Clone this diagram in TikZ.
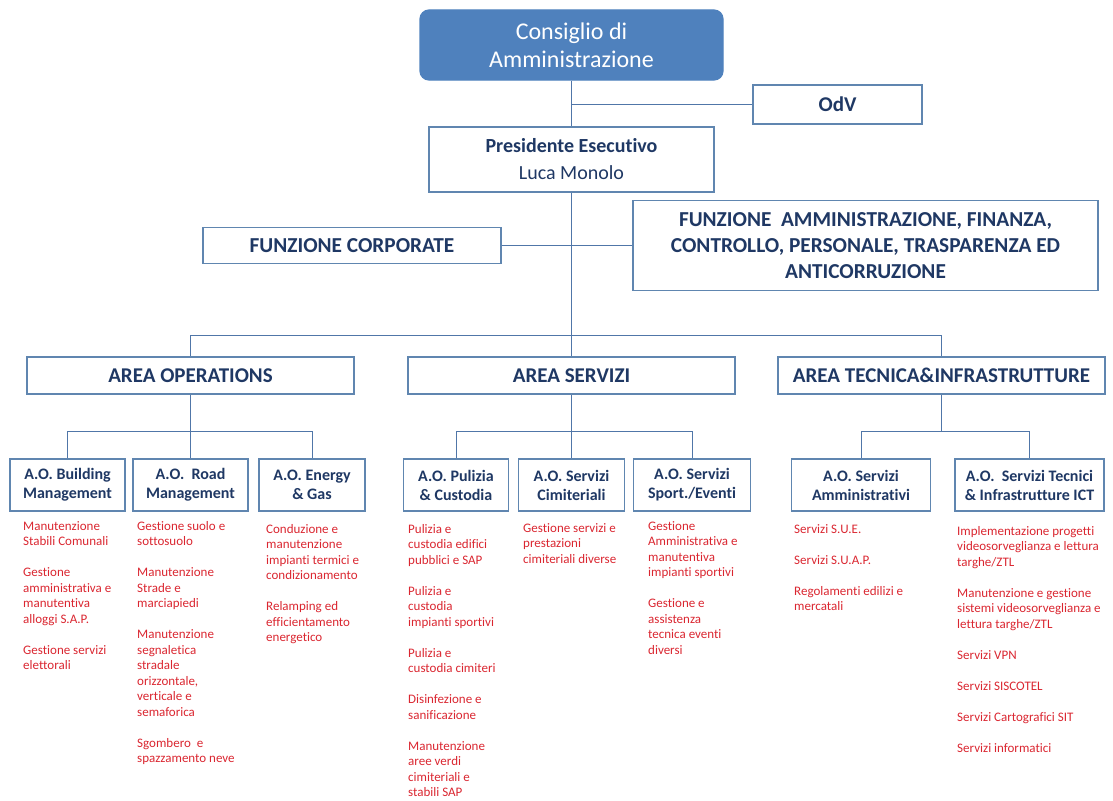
\documentclass[tikz,border=0pt]{standalone}
\usepackage{fontspec}
\setmainfont{Carlito}[Ligatures=NoCommon]
\usetikzlibrary{positioning}
\definecolor{boardblue}{RGB}{79,129,189}
\definecolor{framecol}{RGB}{96,134,176}
\definecolor{linkcol}{RGB}{80,118,168}
\definecolor{navy}{RGB}{31,56,100}
\definecolor{dutyred}{RGB}{218,38,48}

\begin{document}
\begin{tikzpicture}[x=1pt, y=-1pt,
  box/.style={draw=framecol, line width=1.2pt, fill=white, text=navy, align=center, inner sep=0pt},
  aobox/.style={box, minimum height=52pt, font=\bfseries\fontsize{16}{19}\selectfont},
  areabox/.style={box, minimum width=327pt, minimum height=37pt, font=\bfseries\fontsize{21}{24}\selectfont},
  duty/.style={anchor=north west, align=left, inner sep=0pt, text=dutyred, font=\fontsize{13}{15.5}\selectfont},
  link/.style={draw=linkcol, line width=1pt}]
  \useasboundingbox (0,0) rectangle (1113,800);

  % top of the chart
  \node [box, fill=boardblue, draw=boardblue, rounded corners=9pt, text=white, minimum width=303pt, minimum height=70pt,
         font=\fontsize{24}{28}\selectfont] (cda) at (571.5,45) {Consiglio di\\Amministrazione};
  \node [box, minimum width=169pt, minimum height=39pt, font=\bfseries\fontsize{21}{25}\selectfont] (odv) at (837.5,104.5) {OdV};
  \node [box, minimum width=285pt, minimum height=65pt, font=\fontsize{20}{27}\selectfont] (pres) at (571.5,159.5)
        {\textbf{Presidente Esecutivo}\\Luca Monolo};
  \node [box, minimum width=298pt, minimum height=36pt, font=\bfseries\fontsize{21.3}{24}\selectfont] (corp) at (352,245.5) {FUNZIONE CORPORATE};
  \node [box, minimum width=465pt, minimum height=90pt, font=\bfseries\fontsize{21.3}{26}\selectfont] (afc) at (865.5,245.5)
        {FUNZIONE\ \ AMMINISTRAZIONE, FINANZA,\\CONTROLLO, PERSONALE, TRASPARENZA ED\\ANTICORRUZIONE};
  \coordinate (bus) at (571.5,335);

  % areas
  \node [areabox] (aop) at (190.5,375.5) {AREA OPERATIONS};
  \node [areabox] (aserv) at (571.5,375.5) {AREA SERVIZI};
  \node [areabox] (atec) at (941.5,375.5) {AREA TECNICA\&INFRASTRUTTURE};

  % A.O. units
  \node [aobox, minimum width=115pt] (build) at (67.5,485) {A.O. Building\\Management};
  \node [aobox, minimum width=115pt] (road) at (190.5,485) {A.O.\ \ Road\\Management};
  \node [aobox, minimum width=106pt] (energy) at (312,485) {A.O. Energy\\\& Gas};
  \node [aobox, minimum width=105pt] (puli) at (456,485) {A.O. Pulizia\\\& Custodia};
  \node [aobox, minimum width=106pt] (cimi) at (571.5,485) {A.O. Servizi\\Cimiteriali};
  \node [aobox, minimum width=117pt] (sport) at (692,485) {A.O. Servizi\\Sport./Eventi};
  \node [aobox, minimum width=139pt] (ammi) at (861,485) {A.O. Servizi\\Amministrativi};
  \node [aobox, minimum width=149pt] (ict) at (1029.5,485) {A.O.\ \ Servizi Tecnici\\\& Infrastrutture ICT};

  % connectors
  \draw [link] (cda.south) -- (pres.north);
  \draw [link] (cda.south |- odv.west) -- (odv.west);
  \draw [link] (pres.south) -- (bus);
  \draw [link] (corp.east) -- (afc.west);
  \draw [link] (aop.north |- bus) -- (atec.north |- bus);
  \foreach \a in {aop,aserv,atec}
    \draw [link] (\a.north |- bus) -- (\a.north);
  \draw [link] (build.north |- 0,431) -- (energy.north |- 0,431);
  \draw [link] (puli.north |- 0,431) -- (sport.north |- 0,431);
  \draw [link] (ammi.north |- 0,431) -- (ict.north |- 0,431);
  \draw [link] (aop.south) -- (aop.south |- 0,431);
  \draw [link] (aserv.south) -- (aserv.south |- 0,431);
  \draw [link] (atec.south) -- (atec.south |- 0,431);
  \foreach \u in {build,road,energy,puli,cimi,sport,ammi,ict}
    \draw [link] (\u.north |- 0,431) -- (\u.north);

  % duties
  \node [duty] (dbuild) at (23,521) {Manutenzione\\Stabili Comunali\\[15.5pt]Gestione\\amministrativa e\\manutentiva\\alloggi S.A.P.\\[15.5pt]Gestione servizi\\elettorali};
  \node [duty] (droad) at (137,521) {Gestione suolo e\\sottosuolo\\[15.5pt]Manutenzione\\Strade e\\marciapiedi\\[15.5pt]Manutenzione\\segnaletica\\stradale\\orizzontale,\\verticale e\\semaforica\\[15.5pt]Sgombero\ \ e\\spazzamento neve};
  \node [duty] (denergy) at (266,524) {Conduzione e\\manutenzione\\impianti termici e\\condizionamento\\[15.5pt]Relamping ed\\efficientamento\\energetico};
  \node [duty] (dpuli) at (408,524) {Pulizia e\\custodia edifici\\pubblici e SAP\\[15.5pt]Pulizia e\\custodia\\impianti sportivi\\[15.5pt]Pulizia e\\custodia cimiteri\\[15.5pt]Disinfezione e\\sanificazione\\[15.5pt]Manutenzione\\aree verdi\\cimiteriali e\\stabili SAP};
  \node [duty] (dcimi) at (523,523) {Gestione servizi e\\prestazioni\\cimiteriali diverse};
  \node [duty] (dsport) at (648,521) {Gestione\\Amministrativa e\\manutentiva\\impianti sportivi\\[15.5pt]Gestione e\\assistenza\\tecnica eventi\\diversi};
  \node [duty] (dammi) at (794,524) {Servizi S.U.E.\\[15.5pt]Servizi S.U.A.P.\\[15.5pt]Regolamenti edilizi e\\mercatali};
  \node [duty] (dict) at (957,526) {Implementazione progetti\\videosorveglianza e lettura\\targhe/ZTL\\[15.5pt]Manutenzione e gestione\\sistemi videosorveglianza e\\lettura targhe/ZTL\\[15.5pt]Servizi VPN\\[15.5pt]Servizi SISCOTEL\\[15.5pt]Servizi Cartografici SIT\\[15.5pt]Servizi informatici};
\end{tikzpicture}
\end{document}
